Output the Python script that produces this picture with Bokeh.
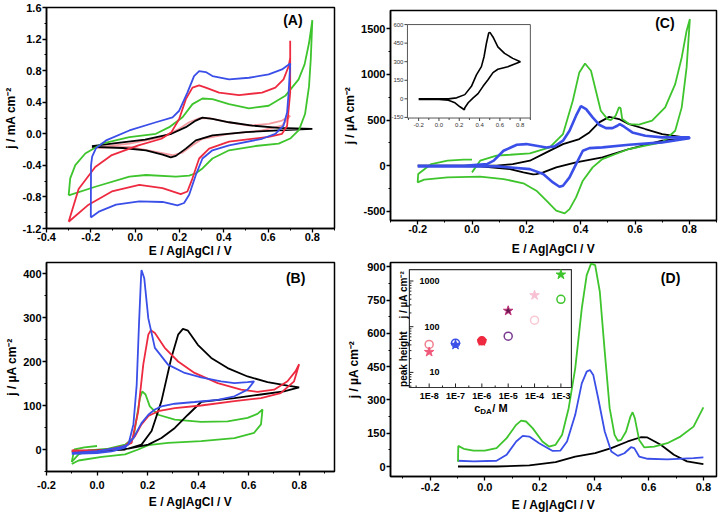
import numpy as np
from bokeh.plotting import figure
from bokeh.layouts import column, row
from bokeh.models import FixedTicker, Range1d, LogScale, PrintfTickFormatter
from bokeh.embed import file_html
from bokeh.resources import INLINE
from bokeh.core.properties import value

FONT = "Liberation Sans"
BLUE = "#3a4ee8"
RED = "#ee2a40"
GREEN = "#3ec42c"
BLACK = "#000000"
PINK = "#f39aa0"

X_LABEL = "E / Ag|AgCl / V"

# ---------------- Panel A data ----------------
A_XTICKS = [-0.4, -0.2, 0.0, 0.2, 0.4, 0.6, 0.8]
A_XMINOR = [-0.3, -0.1, 0.1, 0.3, 0.5, 0.7, 0.9]
A_YTICKS = [-1.2, -0.8, -0.4, 0.0, 0.4, 0.8, 1.2, 1.6]
A_YMINOR = [-1.0, -0.6, -0.2, 0.2, 0.6, 1.0, 1.4]

A_blue_E = [-0.20, -0.199, -0.194, -0.176, -0.131, -0.026, 0.094, 0.169, 0.199, 0.236, 0.266, 0.289, 0.319,
            0.349, 0.424, 0.514, 0.603, 0.663, 0.700, 0.700, 0.693, 0.686, 0.670, 0.633, 0.573, 0.424, 0.349,
            0.304, 0.274, 0.244, 0.221, 0.191, 0.124, 0.019, -0.086, -0.161, -0.200]
A_blue_j = [-1.06, -0.40, -0.29, -0.18, -0.084, 0.042, 0.146, 0.209, 0.292, 0.522, 0.731, 0.794, 0.782,
            0.731, 0.689, 0.710, 0.752, 0.815, 0.89, 0.88, 0.522, 0.27, 0.104, 0.0, -0.063, -0.146, -0.209,
            -0.313, -0.522, -0.773, -0.877, -0.906, -0.864, -0.856, -0.898, -0.982, -1.06]

A_red_E = [-0.30, -0.255, -0.18, -0.105, 0.015, 0.119, 0.164, 0.199, 0.229, 0.259, 0.289, 0.319, 0.379,
           0.469, 0.573, 0.633, 0.670, 0.693, 0.700, 0.700, 0.700, 0.686, 0.663, 0.603, 0.424, 0.334, 0.289,
           0.259, 0.236, 0.206, 0.124, 0.019, -0.105, -0.210, -0.300]
A_red_j = [-1.115, -0.70, -0.42, -0.27, -0.146, -0.063, 0.021, 0.188, 0.439, 0.585, 0.614, 0.585, 0.522,
           0.489, 0.522, 0.585, 0.689, 0.856, 0.96, 1.18, 0.52, 0.10, 0.0, -0.04, -0.10, -0.188, -0.313,
           -0.564, -0.731, -0.765, -0.689, -0.647, -0.731, -0.898, -1.115]

A_green_E = [-0.30, -0.293, -0.27, -0.225, -0.15, -0.026, 0.094, 0.154, 0.214, 0.259, 0.304, 0.349, 0.424,
             0.514, 0.603, 0.678, 0.738, 0.765, 0.785, 0.80, 0.793, 0.785, 0.767, 0.74, 0.70, 0.648, 0.543,
             0.424, 0.349, 0.304, 0.274, 0.244, 0.184, 0.049, -0.026, -0.176, -0.30]
A_green_j = [-0.78, -0.564, -0.397, -0.25, -0.125, -0.042, 0.0, 0.084, 0.209, 0.376, 0.447, 0.439, 0.376,
             0.322, 0.355, 0.481, 0.689, 0.88, 1.15, 1.44, 0.95, 0.60, 0.25, 0.05, -0.06, -0.125, -0.155,
             -0.209, -0.313, -0.439, -0.50, -0.531, -0.543, -0.522, -0.543, -0.668, -0.78]

A_black_E = [-0.195, -0.105, 0.045, 0.164, 0.229, 0.274, 0.304, 0.349, 0.424, 0.529, 0.648, 0.80, 0.80, 0.648,
             0.499, 0.349, 0.274, 0.229, 0.184, 0.161, 0.124, 0.049, -0.056, -0.195]
A_black_j = [-0.155, -0.125, -0.075, 0.0, 0.084, 0.167, 0.205, 0.188, 0.146, 0.104, 0.075, 0.063, 0.063, 0.042,
             0.021, -0.021, -0.084, -0.188, -0.28, -0.30, -0.263, -0.209, -0.18, -0.167]

A_pink_E = [-0.195, -0.026, 0.124, 0.199, 0.244, 0.289, 0.334, 0.424, 0.514, 0.603, 0.663, 0.70, 0.663, 0.573,
            0.424, 0.304, 0.259, 0.214, 0.169, 0.094, -0.026, -0.195]
A_pink_j = [-0.18, -0.125, -0.042, 0.063, 0.146, 0.197, 0.197, 0.146, 0.104, 0.125, 0.167, 0.23, 0.104, 0.042,
            0.0, -0.063, -0.146, -0.238, -0.272, -0.23, -0.167, -0.18]

# ---------------- Panel B data ----------------
B_XTICKS = [-0.2, 0.0, 0.2, 0.4, 0.6, 0.8]
B_XMINOR = [-0.1, 0.1, 0.3, 0.5, 0.7, 0.9]
B_YTICKS = [0, 100, 200, 300, 400]
B_YMINOR = [-50, 50, 150, 250, 350]

B_blue_E = [-0.10, 0.0, 0.085, 0.124, 0.144, 0.157, 0.166, 0.174, 0.176, 0.187, 0.203, 0.229, 0.281, 0.347,
            0.412, 0.491, 0.544, 0.596, 0.622, 0.596, 0.544, 0.478, 0.386, 0.308, 0.255, 0.229, 0.203, 0.176,
            0.144, 0.111, 0.058, 0.0, -0.10]
B_blue_j = [-8, -4, 4, 11, 57, 147, 283, 389, 408, 389, 298, 231, 193, 174, 164, 155, 151, 153, 155, 136, 121,
            113, 108, 104, 98, 91, 79, 60, 26, 4, -4, -8, -10]

B_red_E = [-0.10, 0.0, 0.085, 0.137, 0.163, 0.183, 0.203, 0.213, 0.229, 0.268, 0.321, 0.386, 0.478, 0.570,
           0.635, 0.701, 0.754, 0.786, 0.80, 0.78, 0.727, 0.649, 0.544, 0.412, 0.308, 0.242, 0.203, 0.176,
           0.150, 0.111, 0.045, 0.0, -0.10]
B_red_j = [-4, -2, 2, 15, 87, 193, 261, 271, 265, 231, 200, 174, 151, 136, 131, 136, 155, 178, 194, 155, 128,
           117, 110, 100, 94, 87, 76, 57, 30, 8, 0, -2, -2]

B_black_E = [-0.10, 0.0, 0.111, 0.176, 0.216, 0.255, 0.294, 0.321, 0.340, 0.360, 0.399, 0.452, 0.517, 0.596,
             0.675, 0.754, 0.80, 0.740, 0.649, 0.544, 0.412, 0.360, 0.308, 0.255, 0.203, 0.124, 0.0, -0.10]
B_black_j = [-4, -4, 0, 11, 42, 110, 208, 261, 274, 270, 238, 208, 185, 166, 153, 145, 141, 132, 125, 117, 108,
             79, 49, 26, 11, 2, -2, -4]

B_green_E = [0.0, -0.05, -0.09, -0.10, -0.073, -0.033, 0.045, 0.111, 0.144, 0.157, 0.170, 0.179, 0.192, 0.209,
             0.242, 0.308, 0.412, 0.517, 0.596, 0.635, 0.655, 0.649, 0.622, 0.544, 0.412, 0.281, 0.203, 0.163,
             0.111, 0.019, -0.073, -0.10]
B_green_j = [8, 5, 0, -28, -11, -2, 2, 11, 26, 72, 117, 132, 125, 98, 79, 68, 63, 64, 72, 81, 91, 57, 38, 26,
             19, 15, 10, 0, -11, -17, -25, -33]

# ---------------- Panel C data ----------------
C_XTICKS = [-0.2, 0.0, 0.2, 0.4, 0.6, 0.8]
C_XMINOR = [-0.3, -0.1, 0.1, 0.3, 0.5, 0.7, 0.9]
C_YTICKS = [-500, 0, 500, 1000, 1500]
C_YMINOR = [-250, 250, 750, 1250]

C_blue_E = [-0.20, -0.03, 0.055, 0.08, 0.116, 0.165, 0.20, 0.237, 0.274, 0.304, 0.335, 0.359, 0.383, 0.401,
            0.42, 0.444, 0.468, 0.493, 0.517, 0.535, 0.544, 0.56, 0.59, 0.638, 0.70, 0.80, 0.80, 0.70, 0.578,
            0.48, 0.432, 0.408, 0.383, 0.359, 0.335, 0.322, 0.298, 0.262, 0.213, 0.092, -0.03, -0.20]
C_blue_j = [0, 0, 18, 55, 164, 230, 237, 219, 200, 212, 274, 383, 548, 653, 620, 529, 449, 412, 412, 438, 456,
            427, 365, 329, 310, 310, 300, 256, 230, 201, 193, 164, 18, -128, -219, -230, -183, -91, -37, -7, -7, -7]

C_black_E = [-0.20, 0.09, 0.15, 0.213, 0.274, 0.335, 0.395, 0.432, 0.468, 0.505, 0.541, 0.578, 0.638, 0.70,
             0.80, 0.70, 0.578, 0.48, 0.383, 0.31, 0.262, 0.237, 0.225, 0.189, 0.14, 0.03, -0.20]
C_black_j = [0, 0, 18, 55, 146, 237, 292, 365, 475, 535, 511, 456, 402, 347, 303, 274, 183, 91, 37, -18, -73,
             -91, -95, -73, -37, -7, 0]

C_green_E = [0.0, 0.03, 0.09, 0.14, 0.213, 0.286, 0.335, 0.371, 0.395, 0.416, 0.438, 0.456, 0.474, 0.499, 0.511,
             0.529, 0.541, 0.547, 0.553, 0.578, 0.614, 0.663, 0.711, 0.748, 0.772, 0.79, 0.802, 0.79, 0.772,
             0.748, 0.70, 0.638, 0.578, 0.529, 0.48, 0.444, 0.408, 0.383, 0.359, 0.341, 0.31, 0.274, 0.237,
             0.189, 0.116, 0.03, -0.09, -0.176, -0.20, -0.198, -0.15, -0.09, -0.03, 0.0]
C_green_j = [-73, 55, 110, 120, 135, 200, 347, 712, 1022, 1120, 1040, 821, 602, 511, 500, 548, 639, 631, 511,
             456, 449, 493, 639, 894, 1186, 1478, 1606, 1077, 639, 383, 256, 219, 183, 128, 73, -18, -164, -347,
             -475, -522, -493, -383, -274, -193, -146, -120, -128, -153, -183, -91, 18, 55, 66, 66]

# inset of C
CI_XLIM = [-0.31, 0.9]
CI_YLIM = [-155, 600]
CI_XTICKS = [-0.2, 0.0, 0.2, 0.4, 0.6, 0.8]
CI_XLABELS = ["-0.2", "0.0", "0.2", "0.4", "0.6", "0.8"]
CI_XMINOR = [-0.3, -0.1, 0.1, 0.3, 0.5, 0.7, 0.9]
CI_YTICKS = [-150, 0, 150, 300, 450, 600]
CI_YLABELS = ["-150", "0", "150", "300", "450", "600"]
CI_E = [-0.2, 0.093, 0.174, 0.255, 0.32, 0.369, 0.418, 0.444, 0.467, 0.49, 0.502, 0.532, 0.58, 0.646, 0.727,
        0.802, 0.678, 0.58, 0.532, 0.483, 0.434, 0.385, 0.337, 0.288, 0.255, 0.25, 0.207, 0.158, 0.093, 0.0, -0.2]
CI_j = [0, 0, 8, 34, 101, 194, 260, 340, 447, 532, 537, 500, 420, 367, 327, 300, 260, 239, 212, 154, 101, 42,
        8, -32, -72, -88, -64, -32, -11, -5, -5]

# ---------------- Panel D data ----------------
D_XTICKS = [-0.2, 0.0, 0.2, 0.4, 0.6, 0.8]
D_XMINOR = [-0.3, -0.1, 0.1, 0.3, 0.5, 0.7]
D_YTICKS = [0, 150, 300, 450, 600, 750, 900]
D_YMINOR = [75, 225, 375, 525, 675, 825]

D_green_E = [-0.098, -0.097, -0.077, -0.041, 0.0, 0.043, 0.08, 0.115, 0.133, 0.151, 0.175, 0.211, 0.235,
             0.259, 0.283, 0.307, 0.331, 0.355, 0.373, 0.389, 0.404, 0.421, 0.439, 0.457, 0.475, 0.487, 0.499,
             0.517, 0.533, 0.541, 0.549, 0.565, 0.584, 0.62, 0.668, 0.716, 0.764, 0.80]
D_green_j = [22, 93, 80, 72, 72, 83, 128, 188, 207, 203, 173, 113, 90, 98, 143, 263, 443, 713, 863, 915, 908,
             788, 518, 263, 143, 116, 120, 158, 225, 245, 218, 120, 86, 90, 105, 135, 180, 267]

D_blue_E = [-0.098, -0.041, 0.043, 0.08, 0.115, 0.139, 0.163, 0.199, 0.247, 0.277, 0.301, 0.331, 0.355, 0.373,
            0.385, 0.397, 0.415, 0.439, 0.463, 0.487, 0.511, 0.535, 0.547, 0.565, 0.596, 0.668, 0.764, 0.80]
D_blue_j = [26, 23, 26, 53, 113, 138, 135, 105, 71, 72, 113, 233, 375, 428, 435, 413, 308, 158, 68, 48, 60, 87,
            83, 45, 35, 32, 38, 41]

D_black_E = [-0.098, 0.043, 0.163, 0.259, 0.331, 0.404, 0.463, 0.523, 0.571, 0.595, 0.644, 0.692, 0.74, 0.80]
D_black_j = [0, 0, 5, 20, 45, 60, 83, 113, 132, 131, 98, 53, 23, 11]

# inset of D (log-log): peak height vs concentration
DI_XLIM_LOG = [-8.75, -2.6]
DI_YLIM_LOG = [0.67, 3.25]
DI_XTICKS = [1e-8, 1e-7, 1e-6, 1e-5, 1e-4, 1e-3]
DI_XLABELS = ["1E-8", "1E-7", "1E-6", "1E-5", "1E-4", "1E-3"]
DI_XMINOR = [3.2e-9, 3.2e-8, 3.2e-7, 3.2e-6, 3.2e-5, 3.2e-4]
DI_YTICKS = [10, 100, 1000]
DI_YLABELS = ["10", "100", "1000"]
DI_YMINOR = [5, 6, 7, 8, 9, 20, 30, 40, 50, 60, 70, 80, 90, 200, 300, 400, 500, 600, 700, 800, 900]
DI_conc = [1e-8, 1e-7, 1e-6, 1e-5, 1e-4, 1e-3]
DI_star = [28, 40, 48, 223, 487, 1380]
DI_circle = [41, 43.6, 49, 62, 139, 398]
DI_star_fill = ["#f0587a", "#3a4ee8", "#ee2a40", "#6a1a50", "#f8c0d4", "#3ec42c"]
DI_star_line = ["#f0587a", "#3a4ee8", "#ee2a40", "#c0307a", "#f8c0d4", "#3ec42c"]
DI_circle_line = ["#f08090", "#3a4ee8", "#ee2a40", "#7a3a90", "#f8c8d4", "#3ec42c"]
DI_circle_alpha = [0, 0, 1, 0, 0, 0]


def sub_range(lo, hi, f0, f1):
    span = (hi - lo) / (f1 - f0)
    start = lo - f0 * span
    return start, start + span


def make_fig(w, h, xr, yr, bl, br, bt, bb):
    p = figure(width=w, height=h, x_range=Range1d(*xr), y_range=Range1d(*yr),
               output_backend="svg", toolbar_location=None, title=None,
               min_border_left=bl, min_border_right=br, min_border_top=bt, min_border_bottom=bb)
    p.grid.visible = False
    p.outline_line_color = "black"
    p.outline_line_width = 1.5
    p.outline_line_alpha = 1
    p.background_fill_color = "white"
    p.border_fill_color = "white"
    return p


def style_axes(p, xt, xm, yt, ym, xfmt, yfmt, ylabel, x_lstd, x_std, y_std):
    p.xaxis.ticker = FixedTicker(ticks=xt, minor_ticks=xm)
    p.yaxis.ticker = FixedTicker(ticks=yt, minor_ticks=ym)
    p.xaxis.formatter = PrintfTickFormatter(format=xfmt)
    p.yaxis.formatter = PrintfTickFormatter(format=yfmt)
    p.xaxis.axis_label = X_LABEL
    p.yaxis.axis_label = ylabel
    for ax in [p.xaxis[0], p.yaxis[0]]:
        ax.axis_line_width = 1.5
        ax.axis_line_color = "black"
        ax.major_tick_in = 0
        ax.major_tick_out = 4
        ax.minor_tick_in = 0
        ax.minor_tick_out = 2
        ax.major_tick_line_width = 1.3
        ax.minor_tick_line_width = 1
        ax.major_tick_line_color = "black"
        ax.minor_tick_line_color = "black"
        ax.major_label_text_font = FONT
        ax.major_label_text_font_size = "11px"
        ax.major_label_text_font_style = "bold"
        ax.major_label_text_color = "black"
        ax.axis_label_text_font = FONT
        ax.axis_label_text_font_size = "12px"
        ax.axis_label_text_font_style = "bold"
        ax.axis_label_text_color = "black"
    p.yaxis.major_label_standoff = 1
    p.xaxis.major_label_standoff = x_lstd
    p.xaxis.axis_label_standoff = x_std
    p.yaxis.axis_label_standoff = y_std


def panel_label(p, x, y, txt):
    p.text(x=[x], y=[y], text=[txt], text_font=value(FONT), text_font_size="14px",
           text_font_style="bold", text_color="black", text_align="center", text_baseline="middle")


LW = 1.8
UA = "j / \u00b5A cm\u207b\u00b2"

# ---------------- A ----------------
pA = make_fig(340, 260, (-0.4, 0.9), (-1.2, 1.6), 44, 6, 7, 30)
style_axes(pA, A_XTICKS, A_XMINOR, A_YTICKS, A_YMINOR, "%.1f", "%.1f", "j / mA cm\u207b\u00b2", 0, 0, 2)
pA.line(A_pink_E, A_pink_j, line_color=PINK, line_width=LW)
pA.line(A_black_E, A_black_j, line_color=BLACK, line_width=LW)
pA.line(A_green_E, A_green_j, line_color=GREEN, line_width=LW)
pA.line(A_red_E, A_red_j, line_color=RED, line_width=LW)
pA.line(A_blue_E, A_blue_j, line_color=BLUE, line_width=LW)
panel_label(pA, 0.712, 1.44, "(A)")

# ---------------- B ----------------
pB = make_fig(340, 256, (-0.2, 0.94), (-50, 425), 44, 5, 2, 45)
style_axes(pB, B_XTICKS, B_XMINOR, B_YTICKS, B_YMINOR, "%.1f", "%d", UA, 5, 3, 1)
pB.line(B_green_E, B_green_j, line_color=GREEN, line_width=LW)
pB.line(B_black_E, B_black_j, line_color=BLACK, line_width=LW)
pB.line(B_red_E, B_red_j, line_color=RED, line_width=LW)
pB.line(B_blue_E, B_blue_j, line_color=BLUE, line_width=LW)
panel_label(pB, 0.786, 389, "(B)")

# ---------------- C ----------------
pC = make_fig(380, 260, (-0.3, 0.9), (-600, 1700), 46, 3, 10, 40)
style_axes(pC, C_XTICKS, C_XMINOR, C_YTICKS, C_YMINOR, "%.1f", "%d", UA, 0, 6, 1)
pC.line(C_black_E, C_black_j, line_color=BLACK, line_width=LW)
pC.line(C_green_E, C_green_j, line_color=GREEN, line_width=LW)
pC.line(C_blue_E, C_blue_j, line_color=BLUE, line_width=2.6)
panel_label(pC, 0.71, 1566, "(C)")

# inset C (own ranges mapped onto a sub-box of the frame)
pC.extra_x_ranges = {"ix": Range1d(*sub_range(CI_XLIM[0], CI_XLIM[1], 0.052, 0.429))}
pC.extra_y_ranges = {"iy": Range1d(*sub_range(CI_YLIM[0], CI_YLIM[1], 0.488, 0.933))}
ci = dict(x_range_name="ix", y_range_name="iy")
pC.quad(left=[CI_XLIM[0]], right=[CI_XLIM[1]], bottom=[CI_YLIM[0]], top=[CI_YLIM[1]],
        fill_color="white", line_color="#555555", line_width=1, **ci)
pC.ray(x=CI_XTICKS, y=CI_YLIM[0], length=3, length_units="screen", angle=-np.pi / 2,
       line_color="#444444", line_width=1, **ci)
pC.ray(x=CI_XMINOR, y=CI_YLIM[0], length=2, length_units="screen", angle=-np.pi / 2,
       line_color="#444444", line_width=1, **ci)
pC.ray(x=CI_XLIM[0], y=CI_YTICKS, length=3, length_units="screen", angle=np.pi,
       line_color="#444444", line_width=1, **ci)
pC.text(x=CI_XTICKS, y=CI_YLIM[0], text=CI_XLABELS, y_offset=5, text_align="center", text_baseline="top",
        text_font=value(FONT), text_font_size="6px", text_color="#333333", **ci)
pC.text(x=CI_XLIM[0], y=CI_YTICKS, text=CI_YLABELS, x_offset=-4, text_align="right", text_baseline="middle",
        text_font=value(FONT), text_font_size="6px", text_color="#333333", **ci)
pC.line(CI_E, CI_j, line_color=BLACK, line_width=1.6, **ci)

# ---------------- D ----------------
pD = make_fig(380, 256, (-0.345, 0.848), (-45, 920), 46, 4, 2, 40)
style_axes(pD, D_XTICKS, D_XMINOR, D_YTICKS, D_YMINOR, "%.1f", "%d", UA, 2, 4, 3)
pD.line(D_black_E, D_black_j, line_color=BLACK, line_width=LW)
pD.line(D_blue_E, D_blue_j, line_color=BLUE, line_width=LW)
pD.line(D_green_E, D_green_j, line_color=GREEN, line_width=LW)
panel_label(pD, 0.68, 848, "(D)")

# inset D (log-log)
lx0, lx1 = sub_range(DI_XLIM_LOG[0], DI_XLIM_LOG[1], 0.058, 0.555)
ly0, ly1 = sub_range(DI_YLIM_LOG[0], DI_YLIM_LOG[1], 0.416, 0.967)
pD.extra_x_ranges = {"lx": Range1d(10 ** lx0, 10 ** lx1)}
pD.extra_y_ranges = {"ly": Range1d(10 ** ly0, 10 ** ly1)}
pD.extra_x_scales = {"lx": LogScale()}
pD.extra_y_scales = {"ly": LogScale()}
di = dict(x_range_name="lx", y_range_name="ly")
xmin, xmax = 10 ** DI_XLIM_LOG[0], 10 ** DI_XLIM_LOG[1]
ymin, ymax = 10 ** DI_YLIM_LOG[0], 10 ** DI_YLIM_LOG[1]
pD.quad(left=[xmin], right=[xmax], bottom=[ymin], top=[ymax], fill_color="white",
        line_color="#333333", line_width=1.2, **di)
pD.ray(x=DI_XTICKS, y=ymin, length=4, length_units="screen", angle=np.pi / 2,
       line_color="#222222", line_width=1, **di)
pD.ray(x=DI_XMINOR, y=ymin, length=2, length_units="screen", angle=np.pi / 2,
       line_color="#222222", line_width=1, **di)
pD.ray(x=xmin, y=DI_YTICKS, length=4, length_units="screen", angle=0,
       line_color="#222222", line_width=1, **di)
pD.ray(x=xmin, y=DI_YMINOR, length=2, length_units="screen", angle=0,
       line_color="#222222", line_width=1, **di)
pD.text(x=DI_XTICKS, y=ymin, text=DI_XLABELS, y_offset=4, text_align="center", text_baseline="top",
        text_font=value(FONT), text_font_size="9px", text_font_style="bold", text_color="black", **di)
pD.text(x=xmin, y=DI_YTICKS, text=DI_YLABELS, x_offset=30, text_align="right", text_baseline="middle",
        text_font=value(FONT), text_font_size="9px", text_font_style="bold", text_color="black", **di)
pD.text(x=xmin, y=[19.5], text=["peak height"], x_offset=-6, angle=np.pi / 2, text_align="center",
        text_baseline="middle", text_font=value(FONT), text_font_size="10px", text_font_style="bold",
        text_color="black", **di)
pD.text(x=xmin, y=[500], text=[UA], x_offset=-6, angle=np.pi / 2, text_align="center",
        text_baseline="middle", text_font=value(FONT), text_font_size="10px", text_font_style="bold",
        text_color="black", **di)
pD.text(x=[2.5e-6], y=ymin, text=["c"], x_offset=-18, y_offset=21, text_align="left", text_baseline="middle",
        text_font=value(FONT), text_font_size="11px", text_font_style="bold", text_color="black", **di)
pD.text(x=[2.5e-6], y=ymin, text=["DA"], x_offset=-12, y_offset=24, text_align="left", text_baseline="middle",
        text_font=value(FONT), text_font_size="8px", text_font_style="bold", text_color="black", **di)
pD.text(x=[2.5e-6], y=ymin, text=[" / M"], x_offset=0, y_offset=21, text_align="left", text_baseline="middle",
        text_font=value(FONT), text_font_size="11px", text_font_style="bold", text_color="black", **di)
pD.scatter(x=DI_conc, y=DI_circle, marker="circle", size=8, line_color=DI_circle_line, line_width=1.5,
           fill_color=DI_circle_line, fill_alpha=DI_circle_alpha, **di)
pD.scatter(x=DI_conc, y=DI_star, marker="star", size=10, line_color=DI_star_line, line_width=1,
           fill_color=DI_star_fill, **di)

layout = row(column(pA, pB), column(pC, pD))
open("out.html", "w").write(file_html(layout, INLINE, title="Voltammetry"))
